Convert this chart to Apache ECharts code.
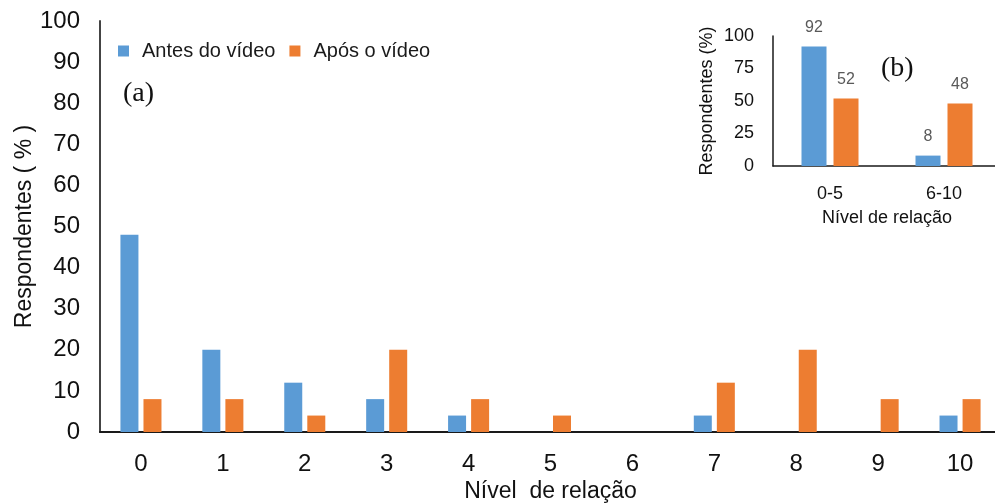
<!DOCTYPE html>
<html>
<head>
<meta charset="utf-8">
<script src="https://cdn.jsdelivr.net/npm/echarts@6/dist/echarts.min.js"></script>
<style>
html,body{margin:0;padding:0;background:#fff;}
#chart{width:995px;height:503px;}
</style>
</head>
<body>
<div id="chart"></div>
<script>
// Main chart (a)
const categories = ['0','1','2','3','4','5','6','7','8','9','10'];
const antes = [48, 20, 12, 8, 4, 0, 0, 4, 0, 0, 4];
const apos = [8, 8, 4, 20, 8, 4, 0, 12, 20, 8, 8];
const yTicks = { min: 0, max: 100, interval: 10 };
// Inset chart (b)
const insetCategories = ['0-5', '6-10'];
const insetAntes = [92, 8];
const insetApos = [52, 48];
const insetTicks = { min: 0, max: 100, interval: 25 };

const seriesNames = ['Antes do vídeo', 'Após o vídeo'];
const BLUE = '#5B9BD5', ORANGE = '#ED7D31';
const FONT = '"Liberation Sans", Arial, sans-serif';

const chart = echarts.init(document.getElementById('chart'), null, {renderer: 'canvas'});
chart.setOption({
  animation: false,
  backgroundColor: '#fff',
  legend: {
    data: seriesNames,
    left: 113, top: 36,
    icon: 'rect', itemWidth: 11, itemHeight: 11, itemGap: 14,
    textStyle: { fontFamily: FONT, fontSize: 20, color: '#1a1a1a', padding: [0,0,0,8] }
  },
  grid: [
    { left: 100, top: 21, width: 901, height: 411, containLabel: false, outerBoundsMode: 'none' },
    { left: 773, top: 36, width: 228, height: 130, containLabel: false, outerBoundsMode: 'none' }
  ],
  xAxis: [
    {
      gridIndex: 0, type: 'category', data: categories,
      axisLine: { lineStyle: { color: '#1a1a1a', width: 2 } },
      axisTick: { show: false },
      axisLabel: { fontFamily: FONT, fontSize: 24, color: '#111', margin: 20 },
      name: 'Nível  de relação', nameLocation: 'middle', nameGap: 48, nameMoveOverlap: false,
      nameTextStyle: { fontFamily: FONT, fontSize: 23, color: '#111' }
    },
    {
      gridIndex: 1, type: 'category', data: insetCategories,
      axisLine: { lineStyle: { color: '#1a1a1a', width: 1.5 } },
      axisTick: { show: false },
      axisLabel: { fontFamily: FONT, fontSize: 18, color: '#111', margin: 19 },
      name: 'Nível de relação', nameLocation: 'middle', nameGap: 43, nameMoveOverlap: false,
      nameTextStyle: { fontFamily: FONT, fontSize: 18, color: '#111' }
    }
  ],
  yAxis: [
    {
      gridIndex: 0, type: 'value', min: yTicks.min, max: yTicks.max, interval: yTicks.interval,
      axisLine: { show: true, lineStyle: { color: '#444', width: 2 } },
      axisTick: { show: false },
      splitLine: { show: false },
      axisLabel: { fontFamily: FONT, fontSize: 24, color: '#111', margin: 20 },
      name: 'Respondentes ( % )', nameLocation: 'middle', nameGap: 64, nameMoveOverlap: false,
      nameTextStyle: { fontFamily: FONT, fontSize: 23, color: '#111' }
    },
    {
      gridIndex: 1, type: 'value', min: insetTicks.min, max: insetTicks.max, interval: insetTicks.interval,
      axisLine: { show: true, lineStyle: { color: '#1a1a1a', width: 1.5 } },
      axisTick: { show: false },
      splitLine: { show: false },
      axisLabel: { fontFamily: FONT, fontSize: 18, color: '#111', margin: 19 },
      name: 'Respondentes (%)', nameLocation: 'middle', nameGap: 57, nameMoveOverlap: false,
      nameTextStyle: { fontFamily: FONT, fontSize: 18, color: '#111' }
    }
  ],
  series: [
    {
      name: seriesNames[0], type: 'bar', xAxisIndex: 0, yAxisIndex: 0, data: antes,
      barWidth: 18, barGap: '28%',
      itemStyle: { color: BLUE }
    },
    {
      name: seriesNames[1], type: 'bar', xAxisIndex: 0, yAxisIndex: 0, data: apos,
      barWidth: 18, barGap: '28%',
      itemStyle: { color: ORANGE }
    },
    {
      name: seriesNames[0], type: 'bar', xAxisIndex: 1, yAxisIndex: 1, data: insetAntes,
      barWidth: 25, barGap: '28%',
      itemStyle: { color: BLUE },
      label: { show: true, position: 'top', distance: 11, fontFamily: FONT, fontSize: 16, color: '#595959' }
    },
    {
      name: seriesNames[1], type: 'bar', xAxisIndex: 1, yAxisIndex: 1, data: insetApos,
      barWidth: 25, barGap: '28%',
      itemStyle: { color: ORANGE },
      label: { show: true, position: 'top', distance: 11, fontFamily: FONT, fontSize: 16, color: '#595959' }
    }
  ],
  graphic: [
    { type: 'text', left: 123, top: 80, style: { text: '(a)', font: '28px "Liberation Serif", "Times New Roman", serif', fill: '#111' } },
    { type: 'text', left: 881, top: 55, style: { text: '(b)', font: '28px "Liberation Serif", "Times New Roman", serif', fill: '#111' } }
  ]
});
</script>
</body>
</html>
